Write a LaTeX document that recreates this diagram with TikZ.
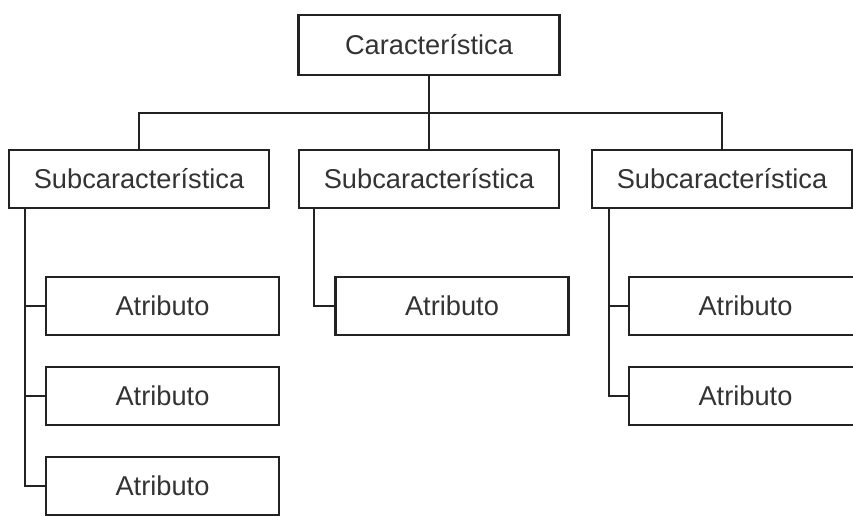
\documentclass[tikz,border=0pt]{standalone}
\usepackage{fontspec}
\setmainfont{Liberation Sans}
\usepackage{tikz}
\definecolor{linegray}{HTML}{222222}
\definecolor{textgray}{HTML}{333333}
\tikzstyle{box}=[rectangle,draw=linegray,line width=1.2pt,inner sep=0pt,text=textgray,font=\fontsize{15.5}{18}\selectfont]

\begin{document}
\begin{tikzpicture}[x=0.02cm,y=-0.02cm]
    \tikzstyle{topbox}=[box,minimum width=5.22cm,minimum height=1.2cm]
    \tikzstyle{subbox}=[box,minimum width=5.2cm,minimum height=1.16cm]
    \tikzstyle{attrbox}=[box,minimum width=4.66cm,minimum height=1.16cm]
    \tikzstyle{link}=[draw=linegray,line width=1.2pt]

    \useasboundingbox (0,0) rectangle (853,515);

    \node[topbox] (c0) at (429,45)   {Característica};

    \node[subbox] (s1) at (139,179)  {Subcaracterística};
    \node[subbox] (s2) at (429,179)  {Subcaracterística};
    \node[subbox] (s3) at (722,179)  {Subcaracterística};

    \node[attrbox] (a1) at (162.5,306) {Atributo};
    \node[attrbox] (a2) at (162.5,396) {Atributo};
    \node[attrbox] (a3) at (162.5,486) {Atributo};
    \node[attrbox] (b1) at (452,306)   {Atributo};
    \node[attrbox] (d1) at (745.5,306) {Atributo};
    \node[attrbox] (d2) at (745.5,396) {Atributo};

    \coordinate (bus) at (429,113);
    \coordinate (l1) at (25,208);
    \coordinate (l2) at (314,208);
    \coordinate (l3) at (609,208);

    \draw [link] (c0) -- (s2);
    \draw [link] (s1.north) |- (bus) -| (s3.north);
    \draw [link] (l1) |- (a1.west);
    \draw [link] (l1) |- (a2.west);
    \draw [link] (l1) |- (a3.west);
    \draw [link] (l2) |- (b1.west);
    \draw [link] (l3) |- (d1.west);
    \draw [link] (l3) |- (d2.west);

\end{tikzpicture}
\end{document}
